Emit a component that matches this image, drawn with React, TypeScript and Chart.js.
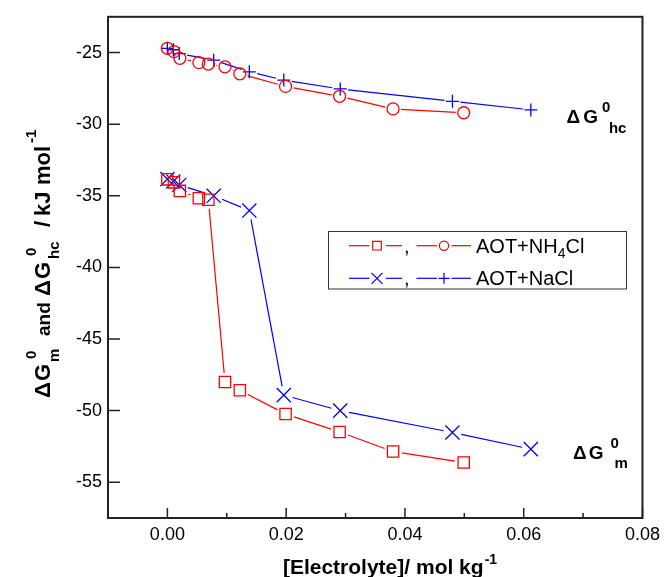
import React, { useEffect, useRef } from "react";
import { Chart, registerables } from "chart.js";
Chart.register(...registerables);

// ---- data ----
const xNH4Cl = [0, 0.0011, 0.0021, 0.0053, 0.0069, 0.0097, 0.0122, 0.0199, 0.029, 0.038, 0.0499];
const gmNH4Cl = [-33.85, -34.06, -34.66, -35.17, -35.28, -48.0, -48.58, -50.24, -51.49, -52.86, -53.62];
const ghcNH4Cl = [-24.7, -24.93, -25.4, -25.7, -25.8, -25.99, -26.48, -27.36, -28.05, -28.93, -29.2];
const xNaCl = [0, 0.001, 0.002, 0.0078, 0.0138, 0.0196, 0.0291, 0.048, 0.0612];
const gmNaCl = [-33.83, -34.0, -34.24, -35.0, -36.03, -48.92, -50.0, -51.53, -52.69];
const ghcNaCl = [-24.7, -24.8, -25.07, -25.53, -26.34, -26.92, -27.54, -28.4, -29.0];

const xTicks = [0, 0.02, 0.04, 0.06, 0.08];
const xMinorTicks = [0.01, 0.03, 0.05, 0.07];
const yTicks = [-55, -50, -45, -40, -35, -30, -25];

const RED = "#ff0000";
const BLUE = "#0000ff";
const FONT = '"Liberation Sans", Arial, sans-serif';

type Part = { t: string; size: number; dy?: number; bold?: boolean; stack?: boolean; gap?: number; dx?: number };

function drawRich(ctx: CanvasRenderingContext2D, parts: Part[], x: number, y: number, draw = true) {
  let cx = x;
  let lastStart = x;
  for (const p of parts) {
    ctx.font = `${p.bold === false ? "" : "bold "}${p.size}px ${FONT}`;
    const w = ctx.measureText(p.t).width;
    let sx: number;
    if (p.stack) {
      sx = lastStart + (p.dx || 0);
      cx = Math.max(cx, sx + w);
    } else {
      sx = cx + (p.gap || 0);
      cx = sx + w;
      lastStart = sx;
    }
    if (draw) ctx.fillText(p.t, sx, y + (p.dy || 0));
  }
  return cx - x;
}

// text pieces placed at fixed offsets along a line
type Piece = { t: string; size: number; at: number; dy?: number };
function drawPieces(ctx: CanvasRenderingContext2D, pieces: Piece[]) {
  for (const p of pieces) {
    ctx.font = `bold ${p.size}px ${FONT}`;
    ctx.fillText(p.t, p.at, p.dy || 0);
  }
}

const zip = (xs: number[], ys: number[]) => xs.map((x, i) => ({ x, y: ys[i] }));

const gapLines = {
  id: "gapLines",
  beforeDatasetsDraw(chart: any) {
    const ctx = chart.ctx as CanvasRenderingContext2D;
    chart.data.datasets.forEach((ds: any, i: number) => {
      const pts = chart.getDatasetMeta(i).data;
      ctx.save();
      ctx.strokeStyle = ds.borderColor;
      ctx.lineWidth = 1.2;
      for (let k = 0; k < pts.length - 1; k++) {
        const a = pts[k], b = pts[k + 1];
        const dx = b.x - a.x, dy = b.y - a.y;
        const d = Math.hypot(dx, dy);
        const g = ds.gap;
        if (d <= 2 * g) continue;
        const ux = dx / d, uy = dy / d;
        ctx.beginPath();
        ctx.moveTo(a.x + ux * g, a.y + uy * g);
        ctx.lineTo(b.x - ux * g, b.y - uy * g);
        ctx.stroke();
      }
      ctx.restore();
    });
  },
};

function marker(ctx: CanvasRenderingContext2D, kind: string, x: number, y: number, color: string) {
  ctx.save();
  ctx.strokeStyle = color;
  ctx.lineWidth = 1.2;
  ctx.beginPath();
  if (kind === "rect") {
    ctx.rect(x - 4.3, y - 4.3, 8.6, 8.6);
  } else if (kind === "circle") {
    ctx.arc(x, y, 4.6, 0, Math.PI * 2);
  } else if (kind === "crossRot") {
    ctx.moveTo(x - 5.5, y - 5.5); ctx.lineTo(x + 5.5, y + 5.5);
    ctx.moveTo(x + 5.5, y - 5.5); ctx.lineTo(x - 5.5, y + 5.5);
  } else {
    ctx.moveTo(x - 5.5, y); ctx.lineTo(x + 5.5, y);
    ctx.moveTo(x, y - 5.5); ctx.lineTo(x, y + 5.5);
  }
  ctx.stroke();
  ctx.restore();
}

function legendLine(ctx: CanvasRenderingContext2D, x1: number, x2: number, y: number, color: string) {
  ctx.save();
  ctx.strokeStyle = color;
  ctx.lineWidth = 1.2;
  ctx.beginPath();
  ctx.moveTo(x1, y);
  ctx.lineTo(x2, y);
  ctx.stroke();
  ctx.restore();
}

const decor = {
  id: "decor",
  afterDraw(chart: any) {
    const ctx = chart.ctx as CanvasRenderingContext2D;
    const { left, right, top, bottom } = chart.chartArea;
    const xs = chart.scales.x, ys = chart.scales.y;
    ctx.save();
    // frame
    ctx.strokeStyle = "#222";
    ctx.lineWidth = 2;
    ctx.strokeRect(left, top, right - left, bottom - top);
    // ticks
    ctx.lineWidth = 1.5;
    ctx.beginPath();
    xTicks.forEach((v) => {
      const px = xs.getPixelForValue(v);
      ctx.moveTo(px, bottom);
      ctx.lineTo(px, bottom - 10);
    });
    xMinorTicks.forEach((v) => {
      const px = xs.getPixelForValue(v);
      ctx.moveTo(px, bottom);
      ctx.lineTo(px, bottom - 5);
    });
    yTicks.forEach((v) => {
      const py = ys.getPixelForValue(v);
      ctx.moveTo(left, py);
      ctx.lineTo(left + 12, py);
    });
    ctx.stroke();

    ctx.fillStyle = "#000";
    ctx.textBaseline = "alphabetic";
    ctx.textAlign = "left";

    // x title
    const xParts: Part[] = [
      { t: "[Electrolyte]/ mol kg", size: 21 },
      { t: "-1", size: 14, dy: -10, gap: 1 },
    ];
    const xw = drawRich(ctx, xParts, 0, 0, false);
    drawRich(ctx, xParts, 390 - xw / 2, 574);

    // y title (rotated)
    ctx.save();
    ctx.translate(50, 398);
    ctx.rotate(-Math.PI / 2);
    drawPieces(ctx, [
      { t: "\u0394", size: 22, at: 0 },
      { t: "G", size: 22, at: 17 },
      { t: "0", size: 15, at: 39, dy: -14 },
      { t: "m", size: 15, at: 36, dy: 9 },
      { t: "and", size: 19, at: 62 },
      { t: "\u0394", size: 22, at: 102 },
      { t: "G", size: 22, at: 119 },
      { t: "0", size: 15, at: 142, dy: -14 },
      { t: "hc", size: 15, at: 139, dy: 9 },
      { t: "/", size: 22, at: 171 },
      { t: "kJ", size: 22, at: 182 },
      { t: "mol", size: 22, at: 213 },
      { t: "-1", size: 15, at: 255, dy: -14 },
    ]);
    ctx.restore();

    // annotations
    drawRich(ctx, [
      { t: "\u0394", size: 19 },
      { t: "G", size: 19, gap: 3 },
      { t: "0", size: 15, dy: -11, gap: 4 },
      { t: "hc", size: 15, dy: 10, stack: true, dx: 7 },
    ], 566.5, 122.7);
    drawRich(ctx, [
      { t: "\u0394", size: 19 },
      { t: "G", size: 19, gap: 2 },
      { t: "0", size: 15, dy: -11, gap: 7 },
      { t: "m", size: 15, dy: 9, stack: true, dx: 4 },
    ], 573, 459.3);

    // legend
    ctx.strokeStyle = "#333";
    ctx.lineWidth = 1;
    ctx.strokeRect(328.5, 231.5, 298, 57.5);
    const rows = [
      { y: 245.7, color: RED, m1: "rect", m2: "circle", base: 253.3 },
      { y: 278.3, color: BLUE, m1: "crossRot", m2: "cross", base: 285 },
    ];
    rows.forEach((r) => {
      legendLine(ctx, 349, 369.5, r.y, r.color);
      marker(ctx, r.m1, 377, r.y, r.color);
      legendLine(ctx, 386, 402, r.y, r.color);
      legendLine(ctx, 416.5, 437, r.y, r.color);
      marker(ctx, r.m2, 444, r.y, r.color);
      legendLine(ctx, 451.5, 471, r.y, r.color);
      ctx.fillStyle = "#000";
      ctx.font = `20px ${FONT}`;
      ctx.fillText(",", 404, r.base);
    });
    ctx.fillStyle = "#000";
    drawRich(ctx, [
      { t: "AOT+NH", size: 20, bold: false },
      { t: "4", size: 14, bold: false, dy: 5 },
      { t: "Cl", size: 20, bold: false },
    ], 476, 253.3);
    drawRich(ctx, [{ t: "AOT+NaCl", size: 20, bold: false }], 476, 285);
    ctx.restore();
  },
};

export default function App() {
  const ref = useRef<HTMLCanvasElement | null>(null);
  useEffect(() => {
    document.body.style.margin = "0";
    const canvas = ref.current!;
    const chart = new Chart(canvas, {
      type: "scatter",
      data: {
        datasets: [
          {
            label: "dGm NH4Cl",
            data: zip(xNH4Cl, gmNH4Cl),
            borderColor: RED,
            backgroundColor: "rgba(0,0,0,0)",
            pointStyle: "rect",
            pointRadius: 8,
            pointBorderWidth: 1.3,
            showLine: false,
            gap: 9,
          } as any,
          {
            label: "dGhc NH4Cl",
            data: zip(xNH4Cl, ghcNH4Cl),
            borderColor: RED,
            backgroundColor: "rgba(0,0,0,0)",
            pointStyle: "circle",
            pointRadius: 6,
            pointBorderWidth: 1.3,
            showLine: false,
            gap: 8,
          } as any,
          {
            label: "dGm NaCl",
            data: zip(xNaCl, gmNaCl),
            borderColor: BLUE,
            backgroundColor: "rgba(0,0,0,0)",
            pointStyle: "crossRot",
            pointRadius: 10,
            pointBorderWidth: 1.3,
            showLine: false,
            gap: 9,
          } as any,
          {
            label: "dGhc NaCl",
            data: zip(xNaCl, ghcNaCl),
            borderColor: BLUE,
            backgroundColor: "rgba(0,0,0,0)",
            pointStyle: "cross",
            pointRadius: 6.5,
            pointBorderWidth: 1.3,
            showLine: false,
            gap: 8,
          } as any,
        ],
      },
      options: {
        animation: false,
        responsive: false,
        events: [],
        layout: { padding: { top: 15, right: 20, left: 0, bottom: 0 } },
        plugins: { legend: { display: false }, tooltip: { enabled: false } },
        scales: {
          x: {
            type: "linear",
            min: -0.01,
            max: 0.08,
            grid: { display: false, drawTicks: false },
            border: { display: false },
            afterBuildTicks: (s: any) => {
              s.ticks = xTicks.map((v) => ({ value: v }));
            },
            afterFit: (s: any) => {
              s.height = 59;
            },
            ticks: {
              autoSkip: false,
              maxRotation: 0,
              padding: 6,
              color: "#000",
              font: { family: FONT, size: 18 },
              callback: (v: any) => Number(v).toFixed(2),
            },
          },
          y: {
            type: "linear",
            min: -57.5,
            max: -22.5,
            grid: { display: false, drawTicks: false },
            border: { display: false },
            afterBuildTicks: (s: any) => {
              s.ticks = yTicks.map((v) => ({ value: v }));
            },
            afterFit: (s: any) => {
              s.width = 108;
            },
            ticks: {
              autoSkip: false,
              padding: 6,
              color: "#000",
              font: { family: FONT, size: 18 },
              callback: (v: any) => String(v),
            },
          },
        },
      },
      plugins: [gapLines, decor],
    });
    return () => chart.destroy();
  }, []);
  return <canvas ref={ref} width={666} height={577} style={{ display: "block" }} />;
}
